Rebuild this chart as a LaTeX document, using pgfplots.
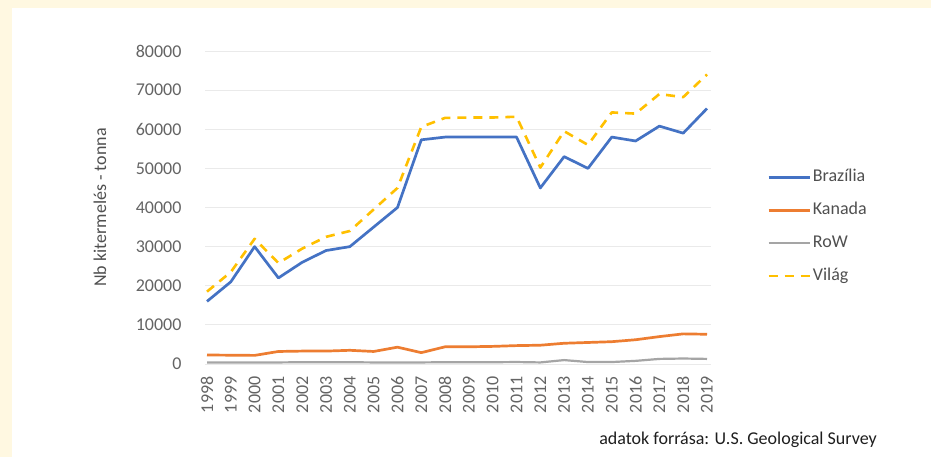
\documentclass[border=0pt]{standalone}
\usepackage{pgfplots}
\pgfplotsset{compat=1.18}
\usepackage{pgfplotstable}
\usepackage{fontspec}
\setmainfont{Carlito}
\definecolor{cream}{RGB}{255,248,225}
\definecolor{txtgray}{RGB}{100,100,100}
\definecolor{leggray}{RGB}{80,80,80}
\definecolor{srcgray}{RGB}{30,30,30}
\definecolor{gridgray}{RGB}{234,234,234}
\definecolor{cBra}{RGB}{68,114,196}
\definecolor{cKan}{RGB}{237,125,49}
\definecolor{cRow}{RGB}{165,165,165}
\definecolor{cVil}{RGB}{255,192,0}

\pgfplotstableread{
year bra kan row vil
1998 16000 2300 400 18500
1999 21000 2250 400 23500
2000 30000 2200 400 32000
2001 22000 3200 400 25800
2002 26000 3300 450 29500
2003 29000 3300 450 32500
2004 30000 3500 450 34000
2005 35000 3200 400 39500
2006 40000 4300 400 45000
2007 57300 2900 400 60600
2008 58000 4400 450 62900
2009 58000 4400 450 63000
2010 58000 4500 450 63000
2011 58000 4700 500 63200
2012 45000 4800 400 50200
2013 53000 5300 1000 59500
2014 50000 5500 500 56000
2015 58000 5700 500 64300
2016 57000 6200 800 64000
2017 60800 7000 1300 69000
2018 59000 7700 1400 68200
2019 65300 7600 1300 74000
}\data

\begin{document}
\begin{tikzpicture}
\useasboundingbox (0,0) rectangle (931pt,457pt);
\fill[cream] (0,0) rectangle (931pt,457pt);
\fill[white] (12pt,0) rectangle (931pt,449pt);
\begin{axis}[
  scale only axis, width=506pt, height=313pt,
  at={(205pt,93pt)}, anchor=south west,
  xmin=1997.916, xmax=2019.168, ymin=0, ymax=80000,
  xtick={1998,...,2019}, ytick={0,10000,...,80000},
  scaled y ticks=false,
  /pgf/number format/1000 sep={},
  /pgf/number format/assume math mode=true,
  axis line style={draw=none}, major tick style={draw=none},
  ymajorgrids, grid style={gridgray, line width=0.8pt},
  tick label style={font=\fontsize{18}{22}\selectfont, text=txtgray},
  yticklabel style={xshift=-20pt},
  xticklabel style={yshift=-9pt, rotate=90, anchor=east},
  ylabel={Nb kitermelés - tonna},
  ylabel style={at={(axis description cs:-0.2075,0.5)}, anchor=center, font=\fontsize{18}{22}\selectfont, text=leggray},
  legend style={draw=none, fill=none, at={(axis description cs:1.1047,0.6374)}, anchor=north west,
    font=\fontsize{18}{22}\selectfont, text=leggray, row sep=12pt,
    nodes={text height=13pt, text depth=4pt}},
  legend cell align=left,
  legend image code/.code={\draw[#1] (0pt,0pt) -- (41pt,0pt);},
  every axis plot/.append style={line join=round},
]
\addplot[cBra, line width=2.7pt] table[x=year,y=bra]{\data};
\addlegendentry{Brazília}
\addplot[cKan, line width=2.7pt] table[x=year,y=kan]{\data};
\addlegendentry{Kanada}
\addplot[cRow, line width=2.2pt] table[x=year,y=row]{\data};
\addlegendentry{RoW}
\addplot[cVil, line width=2.6pt, dash pattern=on 9pt off 7pt] table[x=year,y=vil]{\data};
\addlegendentry{Világ}
\end{axis}
\node[anchor=east, inner sep=0pt, font=\fontsize{18}{22}\selectfont, text=srcgray] at (877pt,17pt) {adatok forrása: U.S. Geological Survey};
\end{tikzpicture}
\end{document}
